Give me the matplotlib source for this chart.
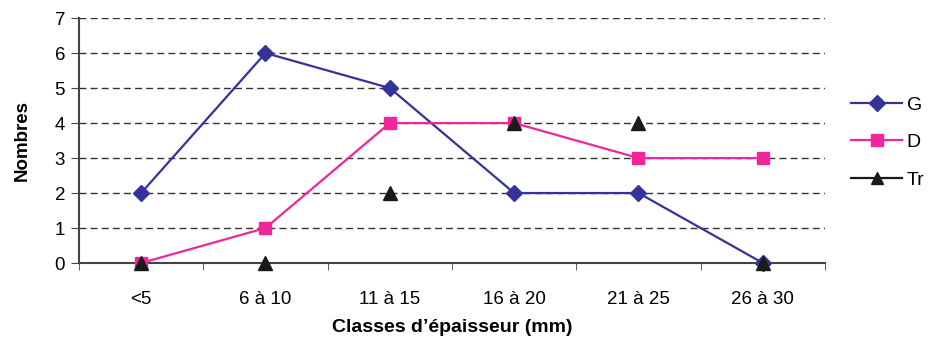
import matplotlib
matplotlib.use("Agg")
import matplotlib.pyplot as plt
from matplotlib.lines import Line2D

categories = ["<5", "6 à 10", "11 à 15", "16 à 20", "21 à 25", "26 à 30"]
G = [2, 6, 5, 2, 2, 0]
D = [0, 1, 4, 4, 3, 3]
Tr = [0, 0, 2, 4, 4, 0]

plt.rcParams['font.family'] = ['Liberation Sans', 'DejaVu Sans']

fig = plt.figure(figsize=(9.39, 3.41), dpi=100)
ax = fig.add_axes([0.0841, 0.2287, 0.7945, 0.7183])

x = list(range(len(categories)))
cG = '#333399'
cD = '#F0269A'
cT = '#1a1a1a'

ax.plot(x, G, color=cG, lw=1.6, marker='D', ms=8, mfc=cG, mec=cG, zorder=3)
ax.plot(x, D, color=cD, lw=1.6, marker='s', ms=8, mfc=cD, mec=cD, zorder=4)
ax.plot(x, Tr, color=cT, lw=0, linestyle='none', marker='^', ms=10, mfc=cT, mec=cT, zorder=5)

ax.set_xlim(-0.5, len(categories) - 0.5)
ax.set_ylim(0, 7)
ax.set_yticks(range(0, 8))
ax.set_xticks(x)
ax.set_xticklabels(categories)
ax.set_xticks([i + 0.5 for i in range(-1, len(categories))], minor=True)
ax.tick_params(axis='x', which='major', length=0, labelsize=13.5, pad=20)
ax.tick_params(axis='x', which='minor', length=5, direction='out', color='#444444')
ax.tick_params(axis='y', length=6, direction='out', labelsize=13.5, color='#444444', pad=4)

ax.grid(axis='y', linestyle=(0, (5, 3)), color='#333333', lw=1.0)
ax.set_axisbelow(True)
for s in ['top', 'right']:
    ax.spines[s].set_visible(False)
for s in ['left', 'bottom']:
    ax.spines[s].set_color('#444444')
    ax.spines[s].set_linewidth(1.5)
for c in ax.get_lines():
    c.set_clip_on(False)

ax.set_ylabel("Nombres", fontsize=13.5, fontweight='bold', labelpad=17)
ax.set_xlabel("Classes d’épaisseur (mm)", fontsize=14, fontweight='bold', labelpad=8)

handles = [
    Line2D([], [], color=cG, lw=1.6, marker='D', ms=8, mfc=cG, mec=cG),
    Line2D([], [], color=cD, lw=1.6, marker='s', ms=8, mfc=cD, mec=cD),
    Line2D([], [], color=cT, lw=1.6, marker='^', ms=9, mfc=cT, mec=cT),
]
fig.legend(handles, ["G", "D", "Tr"], loc='upper left', bbox_to_anchor=(0.888, 0.77),
           frameon=False, fontsize=14, handlelength=2.6, labelspacing=1.03, handletextpad=0.25)

fig.savefig("out.png", dpi=100)
